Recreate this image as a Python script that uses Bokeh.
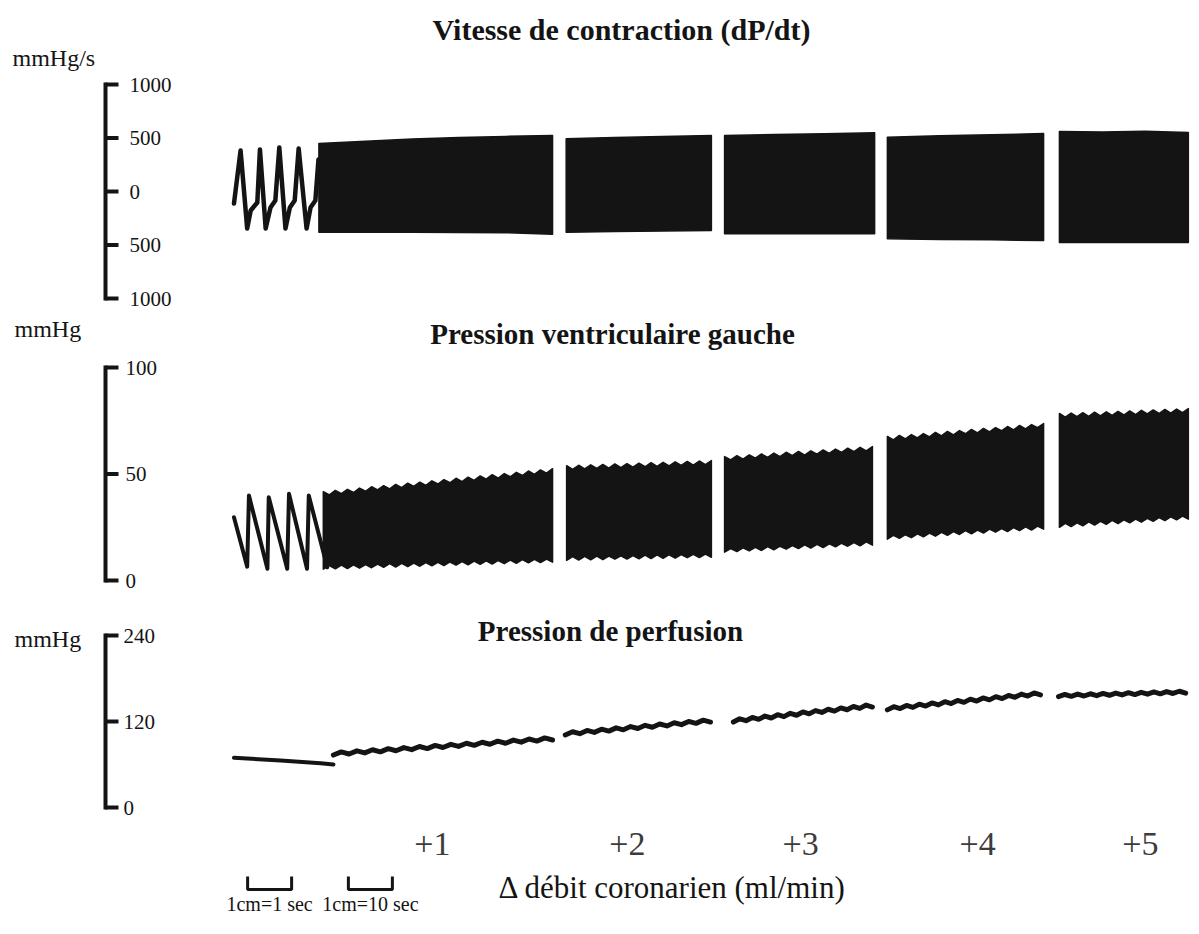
import numpy as np
from bokeh.plotting import figure
from bokeh.layouts import column
from bokeh.models import Range1d, ColumnDataSource, LabelSet, Label
from bokeh.core.properties import value
from bokeh.embed import file_html
from bokeh.resources import INLINE

# ---------------------------------------------------------------------------
# Recording values.  x is position on the chart paper in cm, measured from the
# calibration bars (first section: 1 cm = 1 s, then 1 cm = 10 s).
# ---------------------------------------------------------------------------
dpdt_ticks = [1000, 500, 0, -500, -1000]
dpdt_tick_labels = ["1000", "500", "0", "500", "1000"]
lv_ticks = [100, 50, 0]
lv_tick_labels = ["100", "50", "0"]
perf_ticks = [240, 120, 0]
perf_tick_labels = ["240", "120", "0"]

flow_steps = ["+1", "+2", "+3", "+4", "+5"]
flow_label_x = [7.43, 11.86, 15.80, 19.82, 23.52]

# dP/dt (mmHg/s), individual beats at fast paper speed
dpdt_fast_x = [2.92, 3.07, 3.22, 3.30, 3.45, 3.51, 3.64, 3.75, 3.86, 3.95,
               4.09, 4.19, 4.30, 4.39, 4.57, 4.66, 4.77, 4.84]
dpdt_fast_y = [-112, 383, -346, -178, -103, 393, -346, -150, -84, 411,
               -346, -150, -84, 402, -346, -150, -84, 300]
# dP/dt at slow paper speed: one block per flow step, upper / lower envelope
dpdt_block_start = [4.85, 10.47, 14.07, 17.77, 21.68]
dpdt_block_end = [10.16, 13.77, 17.48, 21.32, 24.61]
dpdt_block_max = [[448, 470, 490, 505, 515, 523],
                  [493, 505, 515, 523],
                  [523, 532, 540, 549],
                  [507, 520, 530, 542],
                  [560, 555, 562, 551]]
dpdt_block_min = [[-380, -380, -382, -384, -385, -400],
                  [-380, -375, -370, -364],
                  [-395, -395, -395, -395],
                  [-442, -448, -452, -458],
                  [-477, -477, -477, -477]]

# Left ventricular pressure (mmHg)
lv_fast_x = [2.92, 3.22, 3.26, 3.68, 3.71, 4.13, 4.17, 4.58, 4.62, 5.04]
lv_fast_y = [29.7, 6.5, 39.9, 5.5, 39.1, 5.5, 40.7, 5.5, 39.9, 6.2]
lv_block_start = [4.95, 10.48, 14.07, 17.77, 21.68]
lv_block_end = [10.16, 13.77, 17.43, 21.32, 24.61]
# systolic (upper) and diastolic (lower) edges, read every ~6 px of paper
lv_block_max = [
    [41.7, 40.2, 42.3, 40.8, 42.8, 41.3, 43.4, 41.9, 44.0, 42.5, 44.5, 43.0,
     45.1, 43.6, 45.7, 44.2, 46.2, 44.7, 46.8, 45.3, 47.4, 45.9, 48.0, 46.4,
     48.5, 47.0, 49.1, 47.6, 49.7, 48.1, 50.2, 48.7, 50.8, 49.3, 51.4, 49.8,
     51.9, 50.4, 52.5],
    [53.9, 52.2, 54.1, 52.4, 54.3, 52.6, 54.5, 52.8, 54.7, 53.0, 54.9, 53.2,
     55.1, 53.4, 55.3, 53.6, 55.5, 53.8, 55.7, 54.0, 55.9, 54.2, 56.1, 54.4, 56.3],
    [58.2, 56.6, 58.6, 57.0, 59.0, 57.4, 59.4, 57.8, 59.8, 58.2, 60.2, 58.6,
     60.6, 58.9, 60.9, 59.3, 61.3, 59.7, 61.7, 60.1, 62.1, 60.5, 62.5, 60.9, 62.9],
    [67.6, 66.0, 68.1, 66.5, 68.5, 67.0, 69.0, 67.4, 69.5, 67.9, 70.0, 68.4,
     70.4, 68.9, 70.9, 69.3, 71.4, 69.8, 71.8, 70.3, 72.3, 70.7, 72.8, 71.2,
     73.2, 71.8, 73.7],
    [78.4, 76.7, 78.6, 76.9, 78.8, 77.1, 79.0, 77.3, 79.2, 77.5, 79.4, 77.7,
     79.6, 77.9, 79.9, 78.2, 80.1, 78.4, 80.3, 78.6, 80.5, 78.8, 80.7],
]
lv_block_min = [
    [5.3, 7.0, 5.5, 7.2, 5.6, 7.3, 5.8, 7.5, 6.0, 7.7, 6.2, 7.9, 6.3, 8.0,
     6.5, 8.2, 6.7, 8.4, 6.9, 8.5, 7.0, 8.7, 7.2, 8.9, 7.4, 9.1, 7.6, 9.2,
     7.7, 9.4, 7.9, 9.6, 8.1, 9.8, 8.3, 9.9, 8.4, 10.1, 8.6],
    [9.5, 11.2, 9.6, 11.3, 9.7, 11.4, 9.8, 11.5, 10.0, 11.6, 10.1, 11.7, 10.2,
     11.9, 10.3, 12.0, 10.4, 12.1, 10.5, 12.2, 10.7, 12.3, 10.8, 12.4, 10.9],
    [13.3, 15.0, 13.6, 15.3, 13.9, 15.6, 14.1, 15.9, 14.4, 16.1, 14.7, 16.4,
     15.0, 16.7, 15.2, 17.0, 15.5, 17.2, 15.8, 17.5, 16.1, 17.8, 16.3, 18.1, 16.6],
    [19.4, 21.2, 19.8, 21.5, 20.1, 21.9, 20.5, 22.3, 20.8, 22.6, 21.2, 23.0,
     21.6, 23.4, 21.9, 23.7, 22.3, 24.1, 22.7, 24.4, 23.0, 24.8, 23.4, 25.2,
     23.7, 25.5, 24.1],
    [25.0, 26.8, 25.3, 27.1, 25.7, 27.5, 26.0, 27.8, 26.4, 28.2, 26.7, 28.5,
     27.1, 28.8, 27.4, 29.2, 27.8, 29.5, 28.1, 29.9, 28.5, 30.2, 28.8],
]

# Perfusion pressure (mmHg)
perf_fast_x = [2.92, 3.98, 4.89, 5.18]
perf_fast_y = [69.3, 65.6, 61.8, 60.0]
perf_block_start = [5.18, 10.45, 14.27, 17.77, 21.66]
perf_block_end = [10.16, 13.75, 17.43, 21.25, 24.55]
perf_block_values = [
    [73.2, 77.6, 74.7, 79.1, 76.2, 80.6, 77.7, 82.1, 79.2, 83.6, 80.7, 85.1,
     82.2, 86.6, 83.7, 88.1, 85.2, 89.6, 86.7, 91.1, 88.2, 92.6, 89.7, 94.1,
     91.2, 95.6, 92.7, 97.1, 94.2],
    [101.2, 105.7, 103.0, 107.5, 104.8, 109.3, 106.6, 111.1, 108.4, 112.9,
     110.2, 114.7, 112.0, 116.5, 113.8, 118.3, 115.6, 120.1, 117.4, 121.9, 119.2],
    [119.2, 123.8, 121.1, 125.7, 123.0, 127.6, 124.9, 129.5, 126.8, 131.4,
     128.7, 133.3, 130.7, 135.2, 132.6, 137.1, 134.5, 139.0, 136.4, 140.9,
     138.3, 142.9, 140.2],
    [136.2, 140.7, 138.0, 142.4, 139.7, 144.2, 141.5, 145.9, 143.2, 147.7,
     145.0, 149.4, 146.7, 151.2, 148.5, 152.9, 150.2, 154.7, 152.0, 156.4,
     153.7, 158.2, 155.5, 159.9, 157.2],
    [154.6, 157.7, 155.1, 158.2, 155.6, 158.7, 156.1, 159.2, 156.6, 159.7,
     157.1, 160.2, 157.6, 160.7, 158.1, 161.2, 158.6, 161.7, 159.1, 162.2, 159.6],
]

calibration_bar_cm = 1.0
calibration_bar_x = [3.23, 5.52]
calibration_text = ["1cm=1 sec", "1cm=10 sec"]

# ---------------------------------------------------------------------------
# Page geometry
# ---------------------------------------------------------------------------
WIDTH = 1199
PX_CM = 44.0        # pixels per cm of paper
AXIS_PX = 105       # page column of the calibration bars (x = 0 cm)
TICK_CM = 13 / PX_CM
INK = "#141414"
SERIF = "Liberation Serif"
X_START = -AXIS_PX / PX_CM
X_END = (WIDTH - AXIS_PX) / PX_CM


def cm(px):
    return (px - AXIS_PX) / PX_CM


def panel(top, height, v_hi, r_hi, v_lo, r_lo):
    """y range for a strip whose scale puts v_hi at page row r_hi and v_lo at r_lo."""
    k = (r_lo - r_hi) / (v_hi - v_lo)
    yr = Range1d(v_lo - (top + height - r_lo) / k, v_hi + (r_hi - top) / k)
    return yr, (lambda r: v_hi + (r_hi - r) / k)


def make_fig(height, yr):
    return figure(width=WIDTH, height=height, x_range=Range1d(X_START, X_END), y_range=yr,
                  x_axis_type=None, y_axis_type=None, output_backend="svg",
                  toolbar_location=None, min_border=0, outline_line_color=None,
                  background_fill_color="white", border_fill_color="white")


def add_scale(p, ticks, labels, label_dx):
    """Bracket-shaped calibration bar with its graduations."""
    n = len(ticks)
    p.segment(x0=[0.0], y0=[min(ticks)], x1=[0.0], y1=[max(ticks)],
              line_width=4, line_color=INK, line_cap="square")
    p.segment(x0=[0.0] * n, y0=ticks, x1=[TICK_CM] * n, y1=ticks,
              line_width=4, line_color=INK)
    src = ColumnDataSource(dict(x=[0.0] * n, y=ticks, t=labels))
    p.add_layout(LabelSet(x="x", y="y", text="t", source=src, x_offset=label_dx,
                          text_baseline="middle", text_align="left",
                          text_font=value(SERIF), text_font_size="21px",
                          text_color=INK))


def text(p, x, y, s, size, style="normal", align="center", color=INK):
    p.add_layout(Label(x=x, y=y, text=s, text_font=SERIF, text_font_size=size,
                       text_font_style=style, text_align=align, text_baseline="middle",
                       text_color=color))


def blocks(p, starts, ends, tops, bottoms):
    for x0, x1, top, bot in zip(starts, ends, tops, bottoms):
        xt = np.linspace(x0, x1, len(top))
        xb = np.linspace(x1, x0, len(bot))
        p.patch(np.concatenate([xt, xb]), np.concatenate([top, bot[::-1]]),
                fill_color=INK, line_color=INK, line_width=1.5, line_join="round")


# ---------------- dP/dt ----------------
yr1, v1 = panel(0, 312, 1000, 84, -1000, 298)
p1 = make_fig(312, yr1)
add_scale(p1, dpdt_ticks, dpdt_tick_labels, 24)
p1.line(dpdt_fast_x, dpdt_fast_y, line_width=4.5, line_color=INK,
        line_join="round", line_cap="round")
blocks(p1, dpdt_block_start, dpdt_block_end, dpdt_block_max, dpdt_block_min)
text(p1, cm(621), v1(29), "Vitesse de contraction (dP/dt)", "30px", "bold")
text(p1, cm(12), v1(57), "mmHg/s", "24px", align="left")

# ---------------- LV pressure ----------------
yr2, v2 = panel(312, 303, 100, 367, 0, 580)
p2 = make_fig(303, yr2)
add_scale(p2, lv_ticks, lv_tick_labels, 20)
p2.line(lv_fast_x, lv_fast_y, line_width=4, line_color=INK,
        line_join="round", line_cap="round")
blocks(p2, lv_block_start, lv_block_end, lv_block_max, lv_block_min)
text(p2, cm(612), v2(333), "Pression ventriculaire gauche", "29px", "bold")
text(p2, cm(14), v2(328), "mmHg", "24px", align="left")

# ---------------- perfusion pressure ----------------
yr3, v3 = panel(615, 319, 240, 635, 0, 807)
p3 = make_fig(319, yr3)
add_scale(p3, perf_ticks, perf_tick_labels, 18)
p3.line(perf_fast_x, perf_fast_y, line_width=4, line_color=INK,
        line_join="round", line_cap="round")
for x0, x1, vals in zip(perf_block_start, perf_block_end, perf_block_values):
    p3.line(np.linspace(x0, x1, len(vals)), vals, line_width=5, line_color=INK,
            line_join="round", line_cap="round")
text(p3, cm(610), v3(630), "Pression de perfusion", "29px", "bold")
text(p3, cm(14), v3(638), "mmHg", "24px", align="left")

# flow steps under the blocks
flow_src = ColumnDataSource(dict(x=flow_label_x, y=[v3(843)] * len(flow_steps), t=flow_steps))
p3.add_layout(LabelSet(x="x", y="y", text="t", source=flow_src, text_align="center",
                       text_baseline="middle", text_font=value(SERIF),
                       text_font_size="34px", text_color="#3c3c3c"))
text(p3, cm(672), v3(887), "\u0394 d\u00e9bit coronarien (ml/min)", "31px")

# calibration bars
for x0, lab in zip(calibration_bar_x, calibration_text):
    x1 = x0 + calibration_bar_cm
    p3.line([x0, x0, x1, x1], [v3(876), v3(889), v3(889), v3(876)],
            line_width=3, line_color=INK)
    text(p3, (x0 + x1) / 2, v3(903), lab, "20px")

layout = column(p1, p2, p3, spacing=0)
open("out.html", "w").write(file_html(layout, INLINE))
